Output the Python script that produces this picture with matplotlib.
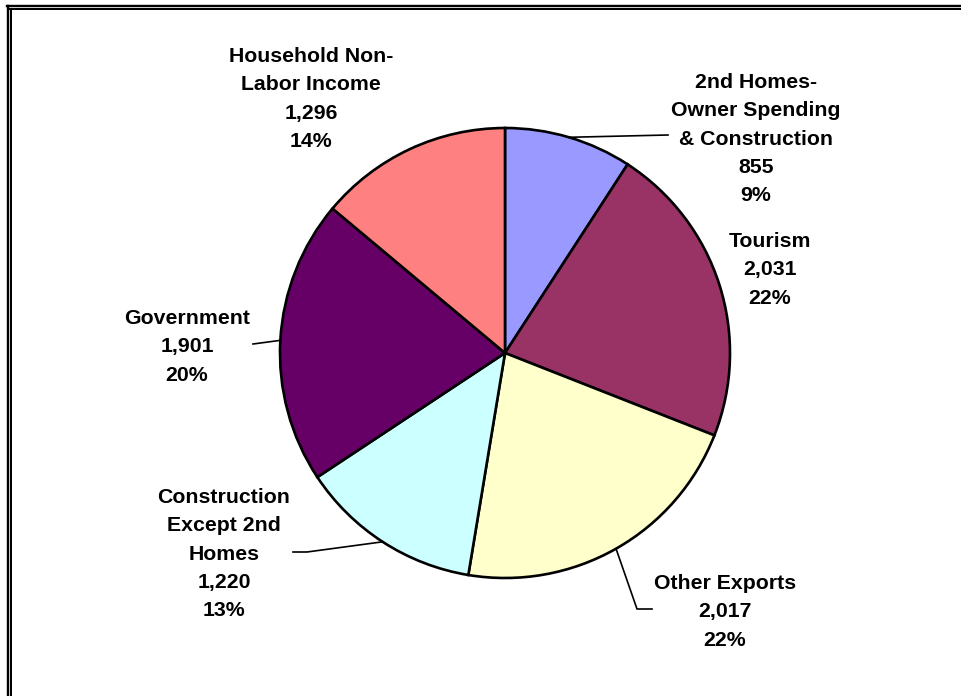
import numpy as np
import matplotlib
matplotlib.use("Agg")
import matplotlib.pyplot as plt
from matplotlib.lines import Line2D

labels = ["2nd Homes-\nOwner Spending\n& Construction", "Tourism", "Other Exports",
          "Construction\nExcept 2nd\nHomes", "Government", "Household Non-\nLabor Income"]
values = [855, 2031, 2017, 1220, 1901, 1296]
colors = ["#9999FF", "#993366", "#FFFFCC", "#CCFFFF", "#660066", "#FF8080"]

W, H = 961, 696
fig = plt.figure(figsize=(W / 100, H / 100), dpi=100)
ax = fig.add_axes([0, 0, 1, 1])

cx, cy, r = 505, H - 353, 225
wedges, _ = ax.pie(values, colors=colors, startangle=90, counterclock=False,
                   center=(cx, cy), radius=r, frame=True,
                   wedgeprops=dict(edgecolor="black", linewidth=1.9))
ax.set_xlim(0, W)
ax.set_ylim(0, H)
ax.set_aspect("equal")
ax.axis("off")

total = sum(values)
# label centre (x, y of first line) and leader line points (pixels from top-left)
label_pos = [(756, 81), (770, 240), (725, 582), (224, 496), (187, 317), (311, 55)]
leaders = [[(668, 135)], None, [(637, 609), (652, 609)], [(307, 552), (293, 552)],
           [(253, 344)], None]

for w, lab, v, (lx, ly), ld in zip(wedges, labels, values, label_pos, leaders):
    pct = round(100 * v / total)
    txt = f"{lab}\n{v:,}\n{pct}%"
    ax.text(lx, H - ly + 8, txt, ha="center", va="top", fontsize=15.3,
            fontweight="bold", family="Liberation Sans", linespacing=1.62)
    if ld:
        mid = np.deg2rad((w.theta1 + w.theta2) / 2)
        xs = [cx + r * np.cos(mid)] + [p[0] for p in ld]
        ys = [cy + r * np.sin(mid)] + [H - p[1] for p in ld]
        ax.plot(xs, ys, color="black", linewidth=1.2)

# double border at top and left
for x0, lw in [(7.8, 2.4), (11.2, 2.0)]:
    fig.add_artist(Line2D([x0 / W, x0 / W], [0, 1 - (x0 - 2) / H], color="black",
                          linewidth=lw * 0.72, transform=fig.transFigure))
for y0, x0, lw in [(5.7, 6.7, 2.4), (9.0, 10.3, 2.0)]:
    fig.add_artist(Line2D([x0 / W, 1], [1 - y0 / H, 1 - y0 / H], color="black",
                          linewidth=lw * 0.72, transform=fig.transFigure))

fig.savefig("out.png", dpi=100)
